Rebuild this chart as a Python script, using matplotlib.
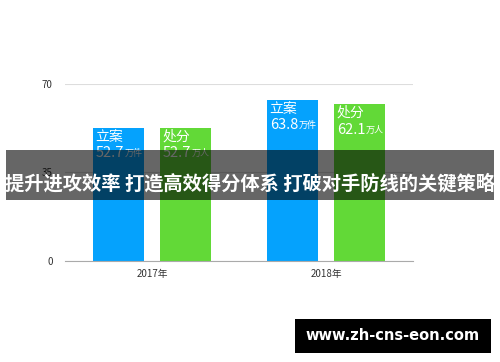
import matplotlib
matplotlib.use("Agg")
import matplotlib.pyplot as plt
import numpy as np

plt.rcParams['font.family'] = ['Noto Sans CJK SC', 'DejaVu Sans']

years = ['2017年', '2018年']
cases = [52.7, 63.8]      # 立案, 万件
punished = [52.7, 62.1]   # 处分, 万人
yticks = [0, 35, 70]

blue = '#05A2FD'
green = '#62D937'

fig = plt.figure(figsize=(5, 3.62), dpi=100)
ax = fig.add_axes([0.13, 0.279, 0.696, 0.489])

x = np.arange(len(years))
w = 0.293
off = 0.193
b1 = ax.bar(x - off, cases, w, color=blue, zorder=2)
b2 = ax.bar(x + off, punished, w, color=green, zorder=2)

ax.set_xlim(-0.5, 1.5)
ax.set_ylim(0, 70)
ax.set_yticks(yticks)
ax.set_xticks(x)
ax.set_xticklabels(years)
ax.tick_params(length=0, labelsize=7, colors='#333333')
ax.tick_params(axis='y', pad=9)
ax.tick_params(axis='x', pad=6)
for s in ['top', 'right', 'left']:
    ax.spines[s].set_visible(False)
ax.spines['bottom'].set_color('#aaaaaa')
ax.yaxis.grid(True, color='#dddddd', lw=0.8, zorder=0)
ax.set_axisbelow(True)

def label(bars, vals, name, unit):
    for rect, v in zip(bars, vals):
        xl = rect.get_x()
        top = rect.get_height()
        ax.annotate(name, xy=(xl, top), xytext=(2, -1.5), textcoords='offset points',
                    ha='left', va='top', color='white', fontsize=10, fontweight='medium', zorder=3)
        t = ax.annotate(f'{v}', xy=(xl, top), xytext=(2, -13.5), textcoords='offset points',
                        ha='left', va='top', color='white', fontsize=10.5, zorder=3)
        ax.annotate(unit, xy=(1, 0), xycoords=t, xytext=(0.5, 1.5), textcoords='offset points',
                    ha='left', va='bottom', color='white', fontsize=6.5, zorder=3)

label(b1, cases, '立案', '万件')
label(b2, punished, '处分', '万人')

# dark overlay band with title
fig.patches.append(plt.Rectangle((6 / 500, 1 - 200 / 362), 488 / 500, 50 / 362,
                                 transform=fig.transFigure, facecolor='black', lw=0,
                                 alpha=0.6, zorder=5))
fig.text(0.5, 1 - 184 / 362, '提升进攻效率 打造高效得分体系 打破对手防线的关键策略',
         ha='center', va='center', color='white', fontsize=13.9, fontweight='bold', zorder=6)

# watermark box
fig.patches.append(plt.Rectangle((295 / 500, 1 - 353 / 362), 196 / 500, 34 / 362,
                                 transform=fig.transFigure, facecolor='black', lw=0, zorder=5))
fig.text(393 / 500, 1 - 336 / 362, 'www.zh-cns-eon.com', ha='center', va='center',
         color='white', fontsize=10.5, fontweight='bold', family='DejaVu Sans', zorder=6)

fig.savefig('out.png', dpi=100)
